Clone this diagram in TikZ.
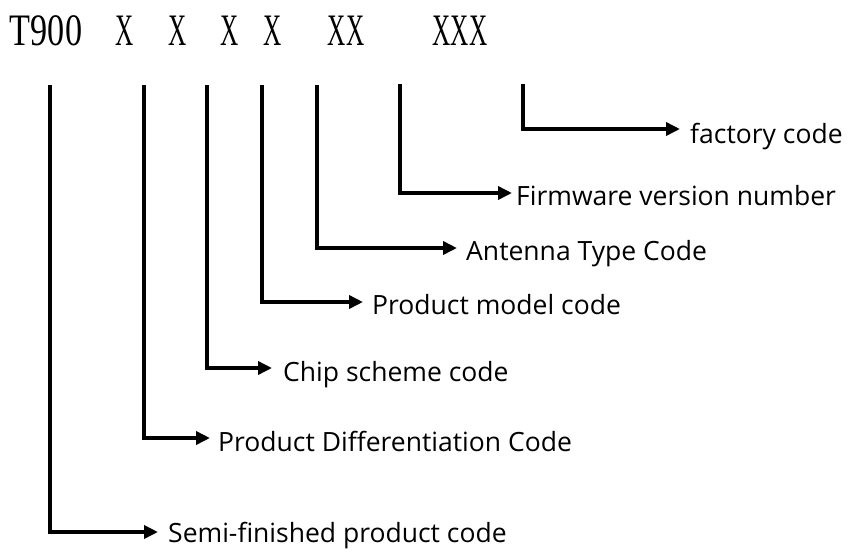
\documentclass[tikz,border=0pt]{standalone}
\usepackage{fontspec}
\setmainfont{Liberation Serif}
\newfontfamily\labfont{Open Sans}
\usetikzlibrary{arrows.meta}
\newcommand{\narrowX}[1]{\scalebox{0.56}[1]{#1}}
\begin{document}
\begin{tikzpicture}[x=1pt,y=-1pt,
  code/.style={inner sep=0pt, anchor=base, font=\fontsize{45}{45}\selectfont},
  lab/.style={inner sep=0pt, anchor=base west, font=\labfont\fontsize{26.5}{26.5}\selectfont},
  arr/.style={line width=4.5pt, -{Triangle[length=14pt,width=13pt]}, line join=miter}]
\useasboundingbox (0,0) rectangle (850,552);
% top code text
\node[code] (t900) at (46,45) {\scalebox{0.76}[1]{T900}};
\node[code] (x1) at (125,45) {\narrowX{X}};
\node[code] (x2) at (178,45) {\narrowX{X}};
\node[code] (x3) at (230,45) {\narrowX{X}};
\node[code] (x4) at (273,45) {\narrowX{X}};
\node[code] (xx) at (346,45) {\narrowX{XX}};
\node[code] (xxx) at (460,45) {\narrowX{XXX}};
% tops of vertical lines
\coordinate (c0) at (50,85);
\coordinate (c1) at (144,85);
\coordinate (c2) at (207,85);
\coordinate (c3) at (262,85);
\coordinate (c4) at (317,85);
\coordinate (c5) at (400,84);
\coordinate (c6) at (523,84);
% arrow tips
\coordinate (e6) at (680,129);
\coordinate (e5) at (512,193);
\coordinate (e4) at (457,248);
\coordinate (e3) at (363,302);
\coordinate (e2) at (272,368);
\coordinate (e1) at (210,438);
\coordinate (e0) at (158,532);
% labels
\node[lab] (l6) at (690,143) {factory code};
\node[lab] (l5) at (516,205) {Firmware version number};
\node[lab] (l4) at (466,260) {Antenna Type Code};
\node[lab] (l3) at (372,314) {Product model code};
\node[lab] (l2) at (283,381) {Chip scheme code};
\node[lab] (l1) at (218,451) {Product Differentiation Code};
\node[lab] (l0) at (168,542) {Semi-finished product code};
% connectors
\draw[arr] (c6) |- (e6);
\draw[arr] (c5) |- (e5);
\draw[arr] (c4) |- (e4);
\draw[arr] (c3) |- (e3);
\draw[arr] (c2) |- (e2);
\draw[arr] (c1) |- (e1);
\draw[arr] (c0) |- (e0);
\end{tikzpicture}
\end{document}
